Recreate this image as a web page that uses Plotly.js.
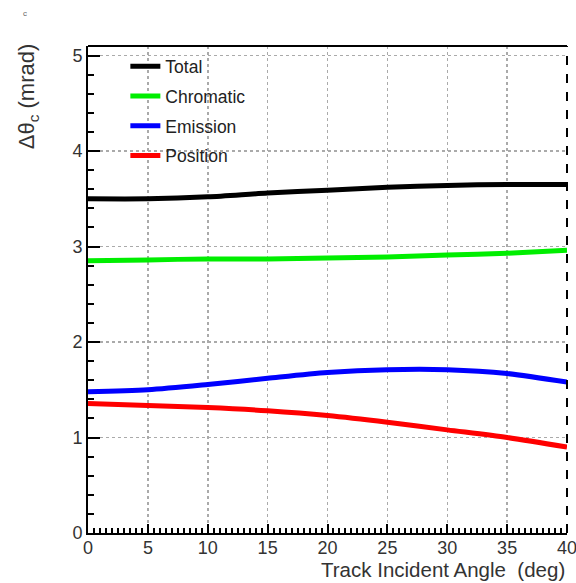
<!DOCTYPE html>
<html><head><meta charset="utf-8">
<script src="https://cdn.plot.ly/plotly-3.0.1.min.js"></script>
<style>html,body{margin:0;padding:0;background:#fff}#c{width:576px;height:583px}</style>
</head><body><div id="c"></div>
<script>
const angles = [0, 5, 10, 15, 20, 25, 30, 35, 40];
const total = [3.50, 3.50, 3.52, 3.56, 3.59, 3.62, 3.64, 3.65, 3.65];
const chromatic = [2.85, 2.86, 2.87, 2.87, 2.88, 2.89, 2.91, 2.93, 2.96];
const emission = [1.48, 1.50, 1.555, 1.62, 1.68, 1.71, 1.71, 1.67, 1.58];
const position = [1.356, 1.335, 1.314, 1.28, 1.23, 1.16, 1.08, 1.0, 0.90];
const names = ['Total', 'Chromatic', 'Emission', 'Position'];
const colors = ['#000000', '#00ee00', '#0000ff', '#ff0000'];
const series = [total, chromatic, emission, position];

const traces = series.map((s, i) => ({
  x: angles, y: s, name: names[i], type: 'scatter', mode: 'lines',
  line: {color: colors[i], width: 5, shape: 'spline', smoothing: 0.8},
  legendgroup: 'g' + i
}));

const fam = 'Liberation Sans, Arial, sans-serif';
const layout = {
  width: 576, height: 583,
  margin: {l: 88, r: 9, t: 46, b: 50},
  paper_bgcolor: '#fff', plot_bgcolor: '#fff',
  font: {family: fam, color: '#333'},
  showlegend: true,
  legend: {x: 0.078, y: 0.995, xanchor: 'left', yanchor: 'top',
           bgcolor: 'rgba(0,0,0,0)', font: {size: 17.5, color: '#222', family: fam},
           tracegroupgap: 4, itemwidth: 30},
  xaxis: {
    range: [0, 40], dtick: 5, tick0: 0,
    ticks: 'inside', ticklen: 9, tickwidth: 2, tickcolor: '#000',
    showline: true, linecolor: '#000', linewidth: 2,
    showgrid: true, gridcolor: '#aaa', griddash: 'dot', gridwidth: 1.5,
    zeroline: false, ticklabeloverflow: 'allow', ticklabelstandoff: -3,
    tickfont: {size: 18, color: '#333', family: fam},
    minor: {dtick: 0.5, ticklen: 5, tickwidth: 2, tickcolor: '#000', ticks: 'inside', showgrid: false},
    title: {text: ''},
    automargin: false
  },
  yaxis: {
    range: [0, 5.1], dtick: 1, tick0: 0,
    ticks: 'inside', ticklen: 12, tickwidth: 2, tickcolor: '#000',
    showline: true, linecolor: '#000', linewidth: 2,
    showgrid: true, gridcolor: '#aaa', griddash: 'dot', gridwidth: 1.5,
    zeroline: false, ticklabeloverflow: 'allow',
    tickfont: {size: 18, color: '#333', family: fam},
    minor: {dtick: 0.2, ticklen: 6, tickwidth: 2, tickcolor: '#000', ticks: 'inside', showgrid: false},
    title: {text: ''},
    automargin: false
  },
  shapes: [
    {type: 'line', xref: 'paper', yref: 'paper', x0: 0, x1: 1, y0: 1, y1: 1,
     line: {color: '#000', width: 2}},
    {type: 'line', xref: 'paper', yref: 'paper', x0: 1, x1: 1, y0: 0, y1: 1,
     line: {color: '#000', width: 2, dash: 'dash'}}
  ],
  annotations: [
    {text: 'Δθ<sub>c</sub> (mrad)', xref: 'paper', yref: 'paper', x: -0.125, y: 1.01,
     xanchor: 'center', yanchor: 'top', textangle: -90, showarrow: false,
     font: {size: 22, color: '#333', family: fam}},
    {text: 'Track Incident Angle  (deg)', xref: 'paper', yref: 'paper', x: 1.0, y: -0.103,
     xanchor: 'right', yanchor: 'bottom', showarrow: false,
     font: {size: 20.5, color: '#333', family: fam}},
    {text: 'c', xref: 'paper', yref: 'paper', x: -0.14, y: 1.08, showarrow: false,
     font: {size: 8, color: '#666', family: fam}}
  ]
};
Plotly.newPlot('c', traces, layout, {staticPlot: true});
</script></body></html>
